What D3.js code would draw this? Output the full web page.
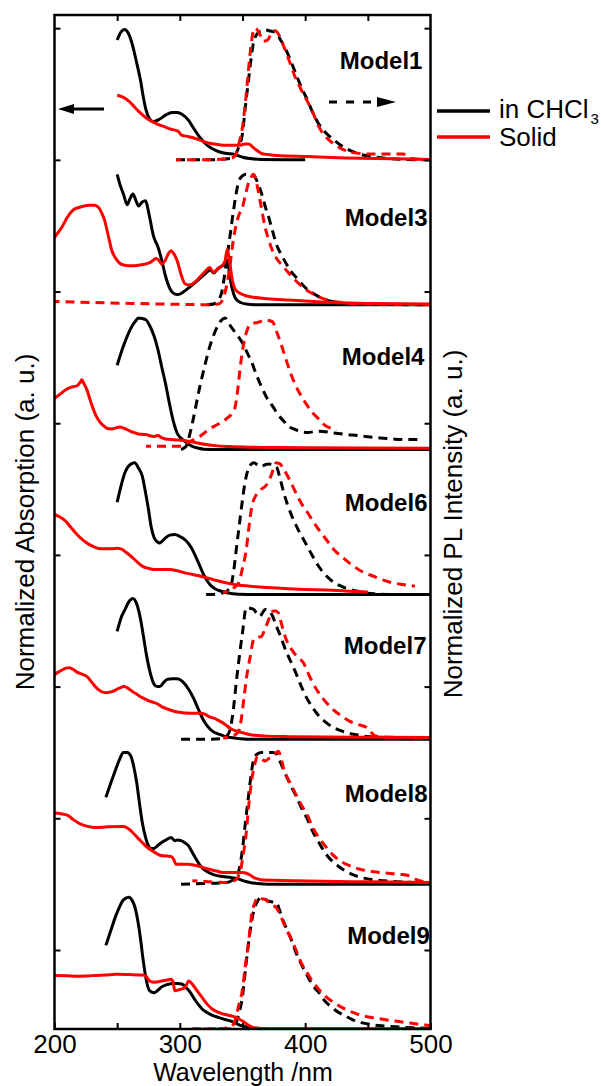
<!DOCTYPE html>
<html>
<head>
<meta charset="utf-8">
<script src="https://cdn.jsdelivr.net/npm/d3@7"></script>
<style>
  html, body { margin: 0; padding: 0; background: #fff; }
  svg { display: block; font-family: "Liberation Sans", Arial, sans-serif; }
</style>
</head>
<body>
<svg id="chart" width="601" height="1086"></svg>
<script>
// Stacked absorption / photoluminescence spectra, each model offset vertically.
// Each series: [wavelength (nm), normalized intensity].

const models = ["Model1", "Model3", "Model4", "Model6", "Model7", "Model8", "Model9"];
const offsets = [6.0, 4.9, 3.8, 2.7, 1.6, 0.5, -0.6];
const yTicks = [0, 1, 2, 3, 4, 5, 6, 7];
const xTicks = [200, 250, 300, 350, 400, 450, 500];
const xTickLabels = [200, 300, 400, 500];

// ---- Model1 ----
const m1AbsSoln = [[250,0.91],[253,0.97],[256,0.99],[259,0.96],[262,0.88],[265,0.76],[268.7,0.6],[271,0.47],[273,0.38],[276,0.31],[279,0.29],[284,0.31],[288.6,0.34],[294,0.36],[298,0.36],[302,0.345],[307,0.3],[311,0.24],[316,0.17],[322,0.11],[329,0.07],[336,0.05],[344,0.04],[350,0.02],[356,0.01],[365,0.003],[400,0]];
const m1AbsSolid = [[250,0.49],[255,0.475],[260,0.44],[264,0.4],[268,0.36],[273,0.32],[278,0.29],[282.5,0.27],[288,0.25],[292,0.235],[298,0.22],[299.5,0.21],[301,0.19],[305,0.18],[310,0.17],[316,0.15],[322,0.13],[328,0.12],[334.5,0.11],[342,0.11],[347,0.11],[352,0.12],[355,0.12],[359,0.09],[365,0.05],[370,0.04],[377.5,0.033],[402,0.025],[432,0.015],[470,0.008],[500,0.003]];
const m1PlSoln = [[297,0],[320,0],[340,0.01],[344,0.03],[347,0.1],[350,0.2],[352,0.38],[354.5,0.58],[357,0.78],[359,0.9],[362,0.96],[365,0.98],[368,0.99],[371,0.98],[374,0.975],[377,0.96],[381,0.9],[385,0.83],[389,0.74],[392.7,0.65],[397,0.55],[402,0.45],[406,0.36],[411,0.27],[417,0.2],[423,0.15],[430,0.1],[438.6,0.06],[447,0.035],[457,0.02],[475,0.005],[500,0]];
const m1PlSolid = [[297,0],[320,0],[340,0.01],[344,0.03],[347,0.12],[350,0.25],[353,0.5],[356,0.8],[358,0.95],[360,1.0],[363,0.97],[366.7,0.9],[370,0.91],[373,0.96],[376,0.98],[379,0.95],[383,0.86],[387,0.76],[392,0.63],[397,0.53],[402,0.44],[407,0.34],[411,0.25],[417,0.17],[423,0.12],[430,0.08],[438,0.055],[450,0.045],[465,0.045],[478,0.045],[485,0.01],[500,0]];

// ---- Model3 ----
const m3AbsSoln = [[250,0.99],[252,0.92],[255,0.84],[258,0.76],[260,0.8],[262.6,0.84],[265,0.79],[267,0.75],[270,0.78],[272.7,0.79],[274.5,0.73],[276,0.66],[279,0.52],[282.5,0.44],[285.5,0.34],[288.5,0.22],[291.7,0.13],[294.5,0.09],[297.8,0.077],[301,0.085],[304,0.105],[310,0.15],[316,0.2],[322,0.25],[324,0.265],[327,0.24],[330,0.27],[333,0.29],[336,0.31],[337.6,0.34],[339,0.28],[340.7,0.17],[343,0.08],[345,0.04],[349,0.015],[353,0.005],[360,0],[500,0]];
const m3AbsSolid = [[200,0.51],[203,0.55],[206,0.59],[210,0.66],[215,0.72],[220,0.74],[227.5,0.756],[232,0.755],[235,0.74],[238,0.69],[240,0.64],[243,0.52],[245.8,0.41],[249,0.35],[252,0.315],[256,0.3],[261,0.296],[267,0.3],[273,0.31],[277,0.325],[279,0.34],[281,0.35],[283,0.34],[285.5,0.31],[288,0.33],[291,0.39],[293,0.41],[295,0.39],[298,0.33],[301,0.23],[304,0.16],[307,0.15],[310,0.157],[313,0.18],[316,0.21],[320,0.25],[323.8,0.283],[326.8,0.245],[329,0.26],[331.5,0.28],[334,0.3],[336,0.33],[337.8,0.42],[339.5,0.34],[342,0.18],[344,0.12],[346.8,0.094],[352,0.07],[359,0.056],[370,0.045],[386.5,0.035],[400,0.028],[417,0.018],[450,0.01],[500,0.005]];
const m3PlSoln = [[322,0],[327,0.005],[330,0.03],[333,0.08],[335,0.18],[337.6,0.36],[340,0.52],[342,0.66],[344.5,0.82],[346.8,0.93],[350,0.98],[353,0.99],[356,0.99],[359,0.98],[362,0.93],[365,0.85],[368,0.75],[371,0.66],[374,0.56],[377,0.46],[381,0.38],[385,0.31],[389,0.25],[394,0.195],[399,0.14],[405,0.094],[411,0.06],[417,0.035],[425,0.02],[432,0.01],[450,0.003],[500,0]];
const m3PlSolid = [[200,0.025],[230,0.017],[261,0.01],[300,0.003],[327,0],[332,0.01],[335,0.06],[337.6,0.157],[340,0.3],[342.5,0.48],[345,0.61],[347.5,0.69],[350,0.74],[352,0.82],[354.5,0.915],[357,0.97],[358.6,0.99],[360.5,0.96],[362,0.89],[365,0.74],[368,0.59],[371,0.49],[374,0.41],[378,0.34],[382,0.296],[386,0.25],[389.6,0.21],[395,0.16],[401.9,0.106],[410,0.065],[417,0.038],[428,0.018],[438.6,0.01],[500,0]];

// ---- Model4 ----
const m4AbsSoln = [[250,0.64],[254,0.76],[258,0.86],[262,0.94],[265,0.98],[267,1.0],[270,0.995],[273,0.985],[276,0.94],[279.5,0.86],[282.5,0.76],[285.5,0.63],[288.6,0.5],[291.7,0.35],[294.7,0.22],[297.8,0.126],[301,0.085],[304,0.063],[307,0.04],[310,0.025],[315,0.01],[319,0.003],[330,0],[500,0]];
const m4AbsSolid = [[200,0.39],[205,0.425],[209,0.455],[214,0.475],[218,0.485],[220.5,0.51],[221.8,0.53],[223.5,0.5],[225.8,0.455],[229,0.36],[233.5,0.25],[237,0.2],[239.7,0.177],[242.5,0.16],[245.8,0.157],[249,0.165],[252,0.172],[256,0.16],[259.6,0.144],[263,0.13],[267,0.119],[273,0.114],[276,0.105],[279.5,0.1],[282.5,0.106],[285.5,0.09],[288.6,0.08],[295,0.075],[304,0.068],[310,0.057],[316,0.046],[322,0.037],[328,0.03],[340,0.023],[356,0.018],[380,0.015],[402,0.013],[450,0.011],[500,0.01]];
const m4PlSoln = [[301,0],[305,0.025],[307.5,0.1],[310,0.2],[313,0.34],[316,0.48],[320,0.64],[323.8,0.78],[327,0.87],[330,0.935],[333,0.98],[336,1.0],[338.5,0.97],[340.7,0.935],[345,0.88],[350,0.81],[354,0.73],[357.5,0.66],[361,0.57],[365,0.48],[369,0.4],[374,0.33],[378,0.27],[383,0.215],[388,0.17],[392.7,0.15],[397,0.135],[402,0.13],[411,0.14],[423,0.126],[432,0.115],[441.7,0.106],[450,0.097],[460,0.088],[470,0.08],[478,0.076],[490,0.076]];
const m4PlSolid = [[273,0.025],[290,0.025],[301,0.025],[306,0.05],[310,0.07],[316,0.1],[320,0.13],[325,0.164],[330,0.19],[334.5,0.215],[338,0.24],[342,0.28],[344,0.32],[345.5,0.4],[347,0.52],[348.5,0.65],[350,0.75],[351.5,0.83],[353.5,0.9],[356,0.95],[359,0.96],[362,0.965],[365,0.975],[368,0.985],[371,0.98],[374,0.97],[377,0.9],[380.5,0.81],[383.5,0.72],[386.6,0.63],[390,0.54],[394,0.455],[398,0.39],[402,0.33],[406,0.28],[411,0.23],[415,0.19],[420,0.164],[425,0.15]];

// ---- Model6 ----
const m6AbsSoln = [[250,0.7],[253,0.82],[256,0.92],[258,0.96],[261,0.99],[264,1.0],[267,0.96],[270,0.9],[272.5,0.78],[275,0.645],[277,0.52],[279.5,0.43],[282,0.4],[284,0.39],[286,0.405],[288.6,0.43],[292,0.45],[296,0.455],[300,0.44],[304,0.417],[307,0.385],[310,0.34],[313,0.28],[316,0.215],[319,0.15],[322,0.1],[325,0.065],[328,0.043],[333,0.025],[337.6,0.013],[347,0.002],[360,0],[500,0]];
const m6AbsSolid = [[200,0.607],[204,0.59],[209,0.556],[213,0.51],[218,0.455],[223,0.41],[227.5,0.38],[232,0.36],[236.6,0.346],[245.8,0.346],[250,0.35],[253,0.346],[257,0.32],[261,0.29],[265,0.255],[270,0.215],[275,0.198],[279.5,0.19],[291.7,0.19],[298,0.18],[304,0.164],[310,0.152],[316,0.14],[322,0.125],[328,0.109],[334,0.094],[340.7,0.08],[347,0.07],[356,0.063],[370,0.052],[386.5,0.043],[400,0.038],[417,0.033],[435,0.025],[450,0.018]];
const m6PlSoln = [[321,0],[326,0],[334.5,0.013],[338,0.03],[340.7,0.063],[343,0.18],[345,0.34],[347.5,0.53],[350,0.72],[352,0.85],[354.5,0.95],[357,0.99],[359,1.0],[362,0.985],[365,0.97],[368,0.985],[371,0.99],[374,0.985],[377,0.97],[380,0.88],[383,0.77],[386,0.68],[389.6,0.59],[394,0.5],[398.7,0.417],[402,0.36],[406,0.29],[411,0.21],[417,0.14],[424,0.085],[432,0.05],[440,0.028],[448,0.013],[455,0.005],[465,0]];
const m6PlSolid = [[334.5,0.013],[340,0.03],[343,0.05],[347,0.09],[350,0.2],[353,0.34],[355,0.5],[357.5,0.67],[360,0.74],[362,0.77],[365,0.8],[368,0.82],[371,0.86],[372.7,0.9],[375,0.96],[377,1.0],[380,0.99],[383,0.95],[387,0.88],[392.7,0.77],[397,0.69],[402,0.62],[406,0.56],[411,0.49],[417,0.415],[423,0.34],[430,0.28],[438.6,0.215],[446,0.17],[454,0.14],[462,0.11],[469,0.09],[478,0.075],[487.6,0.063]];

// ---- Model7 ----
const m7AbsSoln = [[250,0.82],[253,0.92],[256.5,0.99],[259,1.04],[262.6,1.07],[265.5,1.03],[268.7,0.91],[271,0.78],[273,0.66],[276,0.52],[279.5,0.417],[282,0.4],[284,0.4],[287,0.43],[290,0.455],[294,0.46],[298,0.46],[302,0.44],[307,0.38],[311,0.31],[314.7,0.23],[318,0.16],[322,0.1],[326,0.062],[331.5,0.038],[336,0.022],[340.7,0.013],[347,0.005],[353,0],[500,0]];
const m7AbsSolid = [[200,0.49],[203,0.51],[206,0.526],[209,0.54],[212,0.544],[215,0.53],[218,0.51],[222,0.495],[226,0.475],[230,0.43],[233.5,0.39],[237,0.365],[241,0.354],[245,0.36],[248.8,0.374],[252,0.39],[255.6,0.4],[259,0.385],[262.6,0.36],[266,0.34],[270,0.316],[274,0.298],[278,0.283],[282,0.27],[285.5,0.248],[290,0.23],[294.7,0.215],[299,0.205],[304,0.2],[310,0.198],[316,0.197],[320,0.19],[323.8,0.17],[327,0.16],[331.5,0.14],[336,0.115],[340.7,0.08],[345,0.063],[350,0.05],[359,0.03],[370,0.024],[386.5,0.02],[420,0.017],[460,0.015],[500,0.013]];
const m7PlSoln = [[301,0],[320,0],[334.5,0.005],[338,0.03],[340.7,0.1],[343,0.25],[345,0.43],[347.5,0.63],[350,0.81],[353,1.0],[356,0.995],[359,0.986],[361,0.96],[363.7,0.935],[366,0.96],[368,0.986],[371,0.98],[374,0.935],[377,0.86],[380.5,0.78],[383.5,0.7],[386.6,0.63],[390,0.56],[392.7,0.5],[397,0.4],[402,0.3],[406,0.24],[411,0.177],[417,0.125],[423,0.088],[430,0.06],[438.6,0.038],[446,0.025],[454,0.018],[470,0.01],[500,0.005]];
const m7PlSolid = [[334.5,0.01],[340,0.02],[345,0.04],[347,0.063],[349,0.15],[351,0.3],[353,0.455],[356,0.62],[359,0.76],[362,0.775],[365,0.78],[368,0.84],[371,0.91],[374,0.973],[376.5,0.975],[378.6,0.96],[381,0.88],[384.8,0.76],[388,0.7],[391,0.657],[394.5,0.62],[398.7,0.58],[402,0.51],[406,0.43],[411,0.35],[417,0.278],[423,0.22],[429,0.177],[435,0.14],[441.7,0.114],[449,0.09],[452,0.06],[456,0.025],[470,0.015],[500,0.01]];

// ---- Model8 ----
const m8AbsSoln = [[241,0.66],[245,0.77],[248.8,0.87],[252,0.95],[255,1.0],[258,1.0],[261,0.97],[263.5,0.88],[265.6,0.77],[268,0.6],[270,0.47],[272.5,0.36],[275,0.29],[277,0.27],[279,0.27],[282,0.29],[285.5,0.316],[289,0.335],[293,0.354],[296,0.33],[298,0.335],[301,0.33],[304,0.315],[307,0.29],[310,0.24],[313,0.19],[316,0.145],[319,0.114],[323,0.088],[328,0.068],[334,0.058],[340.7,0.05],[344,0.045],[347,0.038],[351,0.025],[356,0.013],[362,0.005],[371,0],[500,0]];
const m8AbsSolid = [[200,0.54],[205,0.535],[210.6,0.523],[215,0.49],[221,0.455],[226,0.44],[232,0.43],[242.7,0.435],[255,0.437],[259,0.42],[262.6,0.39],[266,0.355],[270,0.316],[274,0.28],[278,0.253],[281,0.235],[284,0.22],[290,0.213],[293,0.21],[295,0.19],[297,0.152],[307,0.152],[311,0.145],[316,0.134],[320,0.122],[325,0.109],[330,0.098],[334.5,0.088],[343.7,0.088],[350,0.088],[353,0.083],[356,0.07],[359,0.05],[362,0.04],[365,0.033],[380,0.028],[402,0.023],[450,0.018],[500,0.013]];
const m8PlSoln = [[301,0],[320,0.005],[337.6,0.013],[342,0.03],[345,0.05],[347.5,0.12],[350,0.265],[352,0.44],[354.5,0.645],[357,0.84],[359,0.95],[362,0.99],[365,1.0],[368,1.0],[371,1.0],[374,1.0],[377,0.99],[380,0.93],[385,0.82],[389,0.74],[392.7,0.67],[397,0.58],[402,0.49],[406,0.4],[411,0.316],[415,0.25],[420,0.19],[426,0.14],[432,0.1],[438,0.072],[444.7,0.05],[453,0.035],[463,0.025],[480,0.015],[500,0.008]];
const m8PlSolid = [[310,0.025],[320,0.02],[330,0.015],[337.6,0.013],[344,0.03],[348,0.088],[350.5,0.22],[353,0.39],[355,0.6],[357.5,0.8],[360,0.92],[362,0.97],[365,0.955],[368,0.935],[371,0.955],[374,0.973],[376,0.99],[378.6,1.01],[381,0.95],[383,0.87],[388,0.77],[392.7,0.68],[397,0.6],[402,0.52],[406,0.43],[411,0.354],[416,0.29],[423,0.215],[429,0.17],[435.4,0.14],[443,0.115],[450.8,0.1],[458,0.09],[466,0.083],[474,0.075],[481.5,0.068],[490,0.03],[500,0.013]];

// ---- Model9 ----
const m9AbsSoln = [[241,0.635],[245,0.75],[248.8,0.857],[252,0.93],[255,0.98],[259.5,1.0],[262,0.975],[264,0.93],[266.5,0.82],[268.7,0.68],[270.5,0.54],[272.7,0.4],[274.5,0.32],[276,0.29],[279.5,0.276],[282,0.29],[285.5,0.32],[290,0.338],[294.7,0.346],[298,0.345],[302,0.34],[305,0.315],[308.5,0.276],[311.5,0.23],[314.7,0.187],[318,0.15],[322,0.124],[326,0.104],[331.5,0.086],[336,0.072],[340.7,0.06],[345,0.042],[350,0.023],[356,0.01],[362,0.005],[370,0],[500,0]];
const m9AbsSolid = [[200,0.407],[210,0.405],[218,0.4],[226,0.403],[233.5,0.407],[241,0.41],[248.8,0.415],[260,0.413],[270,0.41],[273,0.4],[276,0.364],[280,0.355],[285.5,0.364],[290,0.372],[293,0.377],[294.5,0.36],[296,0.29],[300,0.3],[304,0.313],[305.5,0.34],[307,0.364],[310,0.34],[313,0.3],[317,0.25],[322,0.187],[326,0.15],[331.5,0.124],[336,0.11],[340.7,0.1],[344,0.092],[347,0.078],[350,0.06],[354.5,0.03],[358,0.013],[362,0.005],[370,0],[500,0]];
const m9PlSoln = [[310,0],[340,0],[343,0.02],[345,0.05],[347.5,0.13],[350,0.25],[352,0.42],[354.5,0.63],[357,0.8],[359,0.9],[362,0.97],[365,1.0],[368,0.985],[371,0.97],[374,0.965],[377,0.96],[380,0.89],[383,0.81],[388,0.7],[392.7,0.58],[397,0.49],[402,0.4],[406,0.33],[411,0.276],[415,0.22],[420,0.174],[426,0.13],[432,0.1],[438,0.07],[444.7,0.048],[453,0.033],[463,0.023],[480,0.012],[500,0.005]];
const m9PlSolid = [[310,0],[320,0],[340,0.01],[343,0.04],[345,0.1],[347.5,0.2],[350,0.3],[352,0.46],[354.5,0.63],[357.5,0.88],[360,0.96],[362,1.0],[365,0.99],[368,0.985],[371,0.96],[374,0.94],[377,0.92],[380,0.87],[383,0.8],[388,0.7],[392.7,0.6],[397,0.5],[402,0.42],[406,0.36],[411,0.3],[416,0.25],[423,0.2],[430,0.16],[438.6,0.124],[446,0.1],[454,0.086],[463,0.072],[472,0.06],[483,0.045],[493,0.035],[500,0.025]];

const absSoln = [m1AbsSoln, m3AbsSoln, m4AbsSoln, m6AbsSoln, m7AbsSoln, m8AbsSoln, m9AbsSoln];
const absSolid = [m1AbsSolid, m3AbsSolid, m4AbsSolid, m6AbsSolid, m7AbsSolid, m8AbsSolid, m9AbsSolid];
const plSoln = [m1PlSoln, m3PlSoln, m4PlSoln, m6PlSoln, m7PlSoln, m8PlSoln, m9PlSoln];
const plSolid = [m1PlSolid, m3PlSolid, m4PlSolid, m6PlSolid, m7PlSolid, m8PlSolid, m9PlSolid];

// ---- layout ----
const frame = { left: 54.5, right: 430.5, top: 15, bottom: 1029 };
// model-name anchors in data units: wavelength of right edge, height above the panel baseline
const labelAnchor = [[493.6, 0.69], [497.6, 0.6], [495.2, 0.64], [497.6, 0.63], [496.8, 0.65], [497.6, 0.62], [499.5, 0.645]];

const svg = d3.select("#chart");
const x = d3.scaleLinear().domain([200, 500]).range([frame.left, frame.right]);
const y = d3.scaleLinear().domain([-0.6, 7.1]).range([frame.bottom, frame.top]);

svg.append("defs").append("clipPath").attr("id", "plotClip")
  .append("rect")
  .attr("x", frame.left).attr("y", frame.top)
  .attr("width", frame.right - frame.left).attr("height", frame.bottom - frame.top);

const plot = svg.append("g").attr("clip-path", "url(#plotClip)");

const lineFor = off => d3.line()
  .x(d => x(d[0]))
  .y(d => y(off + d[1]))
  .curve(d3.curveMonotoneX);

const RED = "#ff0000";
const lw = 3;

models.forEach((m, i) => {
  const line = lineFor(offsets[i]);
  const g = plot.append("g").attr("class", "panel");
  g.append("path").attr("d", line(absSoln[i]))
    .attr("fill", "none").attr("stroke", "#000").attr("stroke-width", lw);
  g.append("path").attr("d", line(plSoln[i]))
    .attr("fill", "none").attr("stroke", "#000").attr("stroke-width", lw)
    .attr("stroke-dasharray", "9,6");
  g.append("path").attr("d", line(absSolid[i]))
    .attr("fill", "none").attr("stroke", RED).attr("stroke-width", lw);
  g.append("path").attr("d", line(plSolid[i]))
    .attr("fill", "none").attr("stroke", RED).attr("stroke-width", lw)
    .attr("stroke-dasharray", "9,6").attr("stroke-dashoffset", 4);
});

// model names
models.forEach((m, i) => {
  svg.append("text")
    .attr("x", x(labelAnchor[i][0]))
    .attr("y", y(offsets[i] + labelAnchor[i][1]))
    .attr("text-anchor", "end")
    .attr("font-size", 24).attr("font-weight", "bold")
    .text(m);
});

// axes: ticks point inward on all four sides
const tickLen = 6;
const axisStyle = g => {
  g.select(".domain").remove();
  g.selectAll(".tick line").attr("stroke", "#000").attr("stroke-width", 2);
};
svg.append("g").attr("transform", `translate(${frame.left},0)`)
  .call(d3.axisLeft(y).tickValues(yTicks).tickSize(-tickLen).tickFormat(""))
  .call(axisStyle);
svg.append("g").attr("transform", `translate(${frame.right},0)`)
  .call(d3.axisRight(y).tickValues(yTicks).tickSize(-tickLen).tickFormat(""))
  .call(axisStyle);
svg.append("g").attr("transform", `translate(0,${frame.top})`)
  .call(d3.axisTop(x).tickValues(xTicks.slice(1, -1)).tickSize(-tickLen).tickFormat(""))
  .call(axisStyle);
const xb = svg.append("g").attr("transform", `translate(0,${frame.bottom})`)
  .call(d3.axisBottom(x).tickValues(xTicks).tickSize(-tickLen).tickPadding(6)
    .tickFormat(d => xTickLabels.includes(d) ? d : ""))
  .call(axisStyle);
xb.selectAll(".tick text").attr("font-size", 26).attr("fill", "#000")
  .attr("font-family", "Liberation Sans, Arial, sans-serif");

// frame
svg.append("rect")
  .attr("x", frame.left).attr("y", frame.top)
  .attr("width", frame.right - frame.left).attr("height", frame.bottom - frame.top)
  .attr("fill", "none").attr("stroke", "#000").attr("stroke-width", 2.5);

// axis titles
svg.append("text")
  .attr("x", 243).attr("y", 1081).attr("text-anchor", "middle")
  .attr("font-size", 25).text("Wavelength /nm");
svg.append("text")
  .attr("transform", "translate(34,522) rotate(-90)")
  .attr("text-anchor", "middle").attr("font-size", 26)
  .text("Normalized Absorption (a. u.)");
svg.append("text")
  .attr("transform", "translate(462,524) rotate(-90)")
  .attr("text-anchor", "middle").attr("font-size", 26)
  .text("Normalized PL Intensity (a. u.)");

// arrows indicating which axis each line style belongs to
const arrowY1 = 109, arrowY2 = 102;
svg.append("line").attr("x1", 104).attr("x2", 70).attr("y1", arrowY1).attr("y2", arrowY1)
  .attr("stroke", "#000").attr("stroke-width", 3);
svg.append("path")
  .attr("d", `M58,${arrowY1} L74,${arrowY1 - 5} L74,${arrowY1 + 5} Z`).attr("fill", "#000");
svg.append("line").attr("x1", 329).attr("x2", 378).attr("y1", arrowY2).attr("y2", arrowY2)
  .attr("stroke", "#000").attr("stroke-width", 3).attr("stroke-dasharray", "8,9");
svg.append("path")
  .attr("d", `M396,${arrowY2} L377,${arrowY2 - 5} L377,${arrowY2 + 5} Z`).attr("fill", "#000");

// legend
const legend = svg.append("g");
legend.append("line").attr("x1", 437).attr("x2", 490).attr("y1", 111).attr("y2", 111)
  .attr("stroke", "#000").attr("stroke-width", 3.5);
legend.append("line").attr("x1", 437).attr("x2", 490).attr("y1", 137).attr("y2", 137)
  .attr("stroke", RED).attr("stroke-width", 3.5);
const t1 = legend.append("text").attr("x", 499).attr("y", 118).attr("font-size", 26);
t1.append("tspan").text("in CHCl");
t1.append("tspan").attr("font-size", 15).attr("dy", 6).attr("dx", 2).text("3");
legend.append("text").attr("x", 499).attr("y", 146).attr("font-size", 26).text("Solid");
</script>
</body>
</html>
